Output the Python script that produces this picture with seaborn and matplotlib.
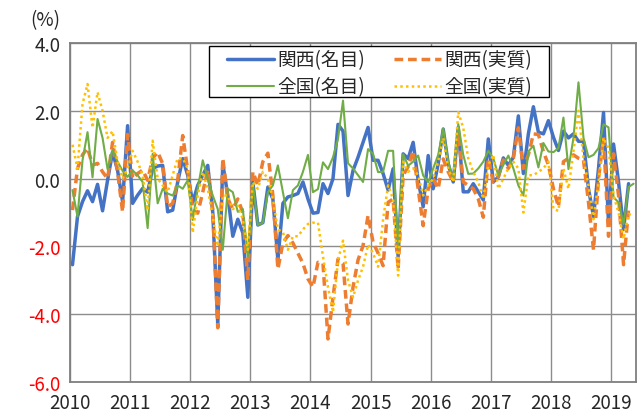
import numpy as np
import seaborn as sns
import matplotlib.pyplot as plt
from matplotlib.patches import Rectangle

sns.set_style("white")
plt.rcParams['font.family'] = ['Noto Sans CJK JP', 'DejaVu Sans']

# -------------------------------
# Data (monthly, Jan 2010 - May 2019, %)
# -------------------------------
years = [2010, 2011, 2012, 2013, 2014, 2015, 2016, 2017, 2018, 2019]
y_ticks = [-6.0, -4.0, -2.0, 0.0, 2.0, 4.0]

kansai_nominal = [
    -2.54, -1.12, -0.68, -0.36, -0.68, -0.17, -0.95, -0.05, 0.78, 0.24, -0.68, 1.56,
    -0.73, -0.49, -0.29, -0.4, 0.3, 0.37, 0.39, -0.98, -0.93, -0.1, 0.59, 0.1,
    -0.7, -0.2, 0.1, 0.39, -1.0, -4.3, 0.44, -0.5, -1.7, -1.2, -1.6, -3.5,
    -0.1, -1.37, -1.3, -0.25, -0.6, -2.4, -0.73, -0.54, -0.5, -0.44, -0.1, -0.6,
    -1.02, -1.0, -0.15, -0.44, 0.0, 1.6, 1.4, -0.5, 0.24, 0.63, 1.07, 1.51,
    0.54, 0.54, 0.15, -0.34, 0.29, -2.3, 0.73, 0.59, 1.07, -0.05, -0.83, 0.68,
    -0.3, 0.44, 1.46, 0.44, -0.1, 1.51, -0.39, -0.39, -0.15, -0.39, -0.63, 1.17,
    -0.1, 0.05, 0.61, 0.39, 0.63, 1.85, 0.15, 1.32, 2.12, 1.37, 1.32, 1.71,
    1.22, 0.83, 1.4, 1.2, 1.32, 1.1, 1.1, -0.3, -1.12, 0.3, 1.95, -1.32,
    1.02, -0.1, -1.5, -0.15,
]
kansai_real = [
    -0.93, 0.3, 0.7, 0.9, 0.4, 0.45, 0.2, 0.0, 1.07, 0.2, -0.98, 1.3,
    0.0, 0.15, 0.25, -0.05, 0.6, 0.78, 0.44, -0.83, -0.73, -0.05, 1.27, 0.25,
    -0.93, -1.02, -0.4, 0.25, -0.9, -4.4, 0.6, -0.6, -0.9, -0.6, -1.0, -3.0,
    0.2, -0.2, 0.5, 0.75, -0.5, -2.67, -1.9, -1.68, -1.9, -2.2, -2.5, -2.96,
    -3.2, -2.47, -2.5, -4.73, -3.5, -2.37, -2.5, -4.29, -3.2, -2.4, -1.98, -1.09,
    -1.88, -2.2, -2.57, -0.7, -0.6, -2.67, 0.1, 0.35, 0.82, -0.3, -1.39, -0.3,
    0.0, -0.3, 0.58, 0.2, -0.1, 1.37, -0.1, -0.2, -0.3, -0.6, -1.14, 0.6,
    -0.1, 0.05, 0.55, 0.3, 0.6, 1.5, 0.3, 0.7, 1.32, 1.3, 0.8, 0.4,
    -0.3, -0.83, 0.5, 0.6, 0.7, 0.6, 0.55, -0.7, -2.1, 0.0, 1.22, -1.7,
    0.73, -0.5, -2.54, -0.9,
]
zenkoku_nominal = [
    -0.34, -1.12, 0.54, 1.37, 0.04, 1.76, 1.2, 0.28, 0.85, 0.5, 0.23, 0.05,
    0.24, 0.1, -0.1, -1.46, 0.73, -0.73, -0.3, -0.44, -0.5, -0.2, -0.3, -0.05,
    -1.22, -0.3, 0.54, 0.0, -0.5, -0.9, -2.1, -0.3, -0.4, -0.98, -0.9, -2.3,
    -0.15, -1.37, -1.3, -0.4, -0.2, 0.39, -0.4, -1.17, -0.34, -0.2, 0.2, 0.7,
    -0.4, -0.31, 0.48, 0.28, 0.63, 1.17, 2.3, 0.45, 0.3, 0.1, -0.1, 0.87,
    0.73, 0.19, 0.2, 0.82, 0.82, -2.08, 0.72, 0.38, 0.5, 0.68, 0.09, -0.11,
    0.3, 0.7, 1.48, 0.5, -0.05, 1.61, 0.7, 0.14, 0.15, 0.3, 0.5, 0.82,
    0.6, 0.09, 0.4, 0.68, 0.3, -0.2, -0.5, 0.8, 0.97, 0.33, 1.05, 0.8,
    0.78, 0.9, 1.8, 0.28, 1.2, 2.84, 1.2, 0.63, 0.7, 0.9, 1.6, 1.51,
    -0.55, -0.7, -1.34, -0.25, -0.15,
]
zenkoku_real = [
    1.0, 0.3, 2.2, 2.79, 1.5, 2.55, 2.0, 1.2, 1.4, 0.5, 0.0, 0.3,
    0.82, 0.5, 0.1, -0.93, 1.12, 0.0, -0.2, -0.4, 0.1, 0.6, 0.6, 0.3,
    -1.6, -0.5, 0.2, -0.3, -1.14, -2.0, -0.5, -0.5, -0.9, -0.8, -1.2, -2.1,
    -0.1, -0.3, 0.2, 0.0, -0.6, -1.5, -1.58, -2.1, -1.7, -1.7, -1.5, -1.34,
    -1.3, -1.3, -2.3, -3.2, -3.94, -2.4, -1.83, -3.0, -3.5, -3.0, -2.6, -1.95,
    -2.2, -2.6, -1.2, -0.2, -0.6, -2.86, 0.5, 0.2, 0.3, 0.1, -0.5, -0.2,
    0.0, 0.5, 1.2, 0.3, -0.1, 1.96, 1.5, 0.6, 0.2, -0.1, -0.6, 0.4,
    0.7, -0.3, 0.0, 0.3, 0.5, 0.3, -1.0, 0.1, 0.1, 0.2, 0.3, 0.5,
    -0.9, -0.95, 0.3, -0.3, 0.8, 2.0, 0.6, -0.2, -1.2, -0.1, 1.2, 0.9,
    -0.5, -1.0, -1.78, -1.04, -1.1,
]

n_months = len(zenkoku_nominal)
months = np.arange(n_months) + 0.5

# -------------------------------
# Plot
# -------------------------------
fig, ax = plt.subplots(figsize=(6.38, 4.14), dpi=100)
fig.subplots_adjust(left=0.1097, right=0.997, top=0.8937, bottom=0.0749)

series = [
    ('関西(名目)', kansai_nominal, '#4472C4', '-', 2.5),
    ('関西(実質)', kansai_real, '#ED7D31', (0, (2.5, 1.4)), 2.5),
    ('全国(名目)', zenkoku_nominal, '#70AD47', '-', 1.5),
    ('全国(実質)', zenkoku_real, '#FFC000', (0, (1, 1.3)), 1.8),
]
for label, vals, color, ls, lw in series:
    sns.lineplot(x=months[:len(vals)], y=vals, color=color, linestyle=ls,
                 linewidth=lw, label=label, ax=ax, solid_joinstyle='round')

ax.set_xlim(0, n_months)
ax.set_ylim(-6, 4)
ax.set_xticks(np.arange(len(years)) * 12)
ax.set_xticklabels([str(y) for y in years], fontsize=13.5)
ax.set_yticks(y_ticks)
ax.set_yticklabels([f"{v:.1f}" for v in y_ticks], fontsize=13.5)
for lab, v in zip(ax.get_yticklabels(), y_ticks):
    if v < 0:
        lab.set_color('red')

ax.grid(True, color='#8c8c8c', linewidth=1.0)
ax.tick_params(axis='y', length=5, color='#8c8c8c', pad=2)
ax.tick_params(axis='x', length=0, pad=7)
for side in ['left', 'bottom', 'top', 'right']:
    ax.spines[side].set_color('#7f7f7f')
    ax.spines[side].set_linewidth(1.3)
ax.set_xlabel('')
ax.set_ylabel('')

fig.text(0.0705, 0.949, '(%)', fontsize=13.5, ha='center', va='center')

# legend box (drawn separately so the inner padding matches)
W, H = 638, 414
box = Rectangle((209 / W, 1 - 98 / H), 340 / W, 51.3 / H, transform=fig.transFigure,
                facecolor='white', edgecolor='black', linewidth=1.0,
                clip_on=False, zorder=4)
ax.add_patch(box)

handles, labels = ax.get_legend_handles_labels()
order = [0, 2, 1, 3]
leg = ax.legend([handles[i] for i in order], [labels[i] for i in order],
                ncol=2, loc='upper left', bbox_to_anchor=(227 / W, 1 - 50.5 / H),
                bbox_transform=fig.transFigure, borderaxespad=0, borderpad=0,
                fontsize=13.5, frameon=False, handlelength=2.5, handletextpad=0.18,
                columnspacing=1.55, labelspacing=0.3)
leg.set_zorder(5)

plt.savefig('out.png', dpi=100)
